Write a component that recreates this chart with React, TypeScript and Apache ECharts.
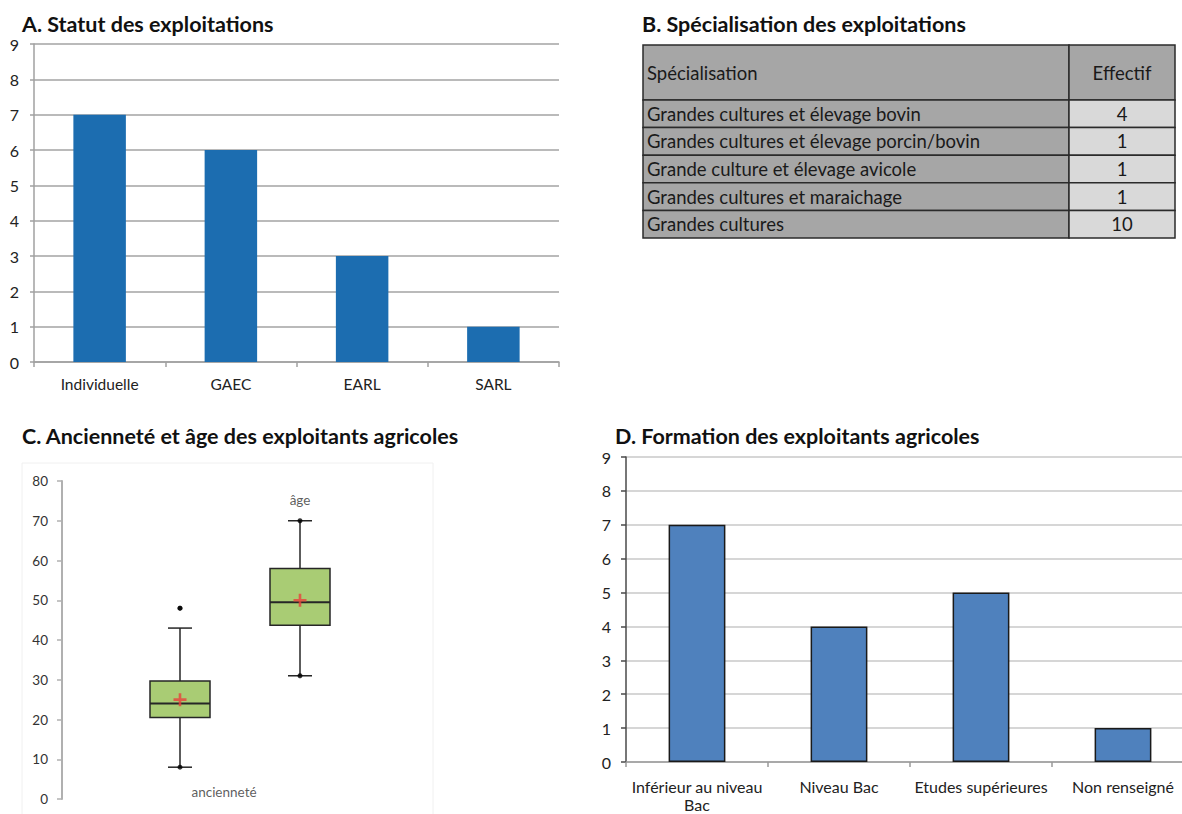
import React, { useEffect, useRef } from 'react';
import * as echarts from 'echarts';

// ---- Data ----
const statutCategories = ['Individuelle', 'GAEC', 'EARL', 'SARL'];
const statutValues = [7, 6, 3, 1];

const specHeader = ['Spécialisation', 'Effectif'];
const specNames = [
  'Grandes cultures et élevage bovin',
  'Grandes cultures et élevage porcin/bovin',
  'Grande culture et élevage avicole',
  'Grandes cultures et maraichage',
  'Grandes cultures',
];
const specCounts = [4, 1, 1, 1, 10];

const boxCategories = ['ancienneté', 'âge'];
const boxMin = [8, 31];
const boxQ1 = [20.5, 43.7];
const boxMedian = [24, 49.5];
const boxQ3 = [29.7, 58];
const boxMax = [43, 70];
const boxMean = [25, 50];
const boxOutliers = [[0, 48]];
const boxExtremeDots = [[0, 8], [0, 48], [1, 31], [1, 70]];
const boxLabelValues = [1.8, 75.2];

const formationCategories = ['Inférieur au niveau Bac', 'Niveau Bac', 'Etudes supérieures', 'Non renseigné'];
const formationValues = [7, 4, 5, 1];

const FONT = 'Lato, "Open Sans", sans-serif';
const CANVAS_W = 1200;

export default function App() {
  const ref = useRef<HTMLDivElement>(null);
  useEffect(() => {
    if (!ref.current) return;
    const chart = echarts.init(ref.current, undefined, { renderer: 'svg' });

    // table graphic
    const tx0 = 643, tx1 = 1069, tx2 = 1175;
    const hy0 = 45, hy1 = 100, rowH = 27.6;
    const cellStroke = { stroke: '#2b2b2b', lineWidth: 1.5 };
    const tableEls: any[] = [];
    tableEls.push({ type: 'rect', shape: { x: tx0, y: hy0, width: tx1 - tx0, height: hy1 - hy0 }, style: { fill: '#a6a6a6', ...cellStroke } });
    tableEls.push({ type: 'rect', shape: { x: tx1, y: hy0, width: tx2 - tx1, height: hy1 - hy0 }, style: { fill: '#a6a6a6', ...cellStroke } });
    const tfont = '18.5px ' + FONT;
    const txt = (text: string, x: number, y: number, align: string) => ({
      type: 'text', x, y,
      style: { text, font: tfont, fill: '#1a1a1a', align, verticalAlign: 'middle', textAlign: align, textVerticalAlign: 'middle' },
    });
    tableEls.push(txt(specHeader[0], tx0 + 4, (hy0 + hy1) / 2, 'left'));
    tableEls.push(txt(specHeader[1], (tx1 + tx2) / 2, (hy0 + hy1) / 2, 'center'));
    specNames.forEach((n, i) => {
      const y = hy1 + i * rowH;
      tableEls.push({ type: 'rect', shape: { x: tx0, y, width: tx1 - tx0, height: rowH }, style: { fill: '#a6a6a6', ...cellStroke } });
      tableEls.push({ type: 'rect', shape: { x: tx1, y, width: tx2 - tx1, height: rowH }, style: { fill: '#d9d9d9', ...cellStroke } });
      tableEls.push(txt(n, tx0 + 4, y + rowH / 2, 'left'));
      tableEls.push(txt(String(specCounts[i]), (tx1 + tx2) / 2, y + rowH / 2, 'center'));
    });

    const titleStyle = { fontFamily: FONT, fontWeight: 'bold' as const, fontSize: 21.5, color: '#111' };
    const countAxisLabel = { fontFamily: FONT, fontSize: 16, color: '#222' };

    const option: any = {
      animation: false,
      backgroundColor: '#ffffff',
      title: [
        { text: 'A. Statut des exploitations', left: 22, top: 13, padding: 0, textStyle: titleStyle },
        { text: 'B. Spécialisation des exploitations', left: 642, top: 13, padding: 0, textStyle: titleStyle },
        { text: 'C. Ancienneté et âge des exploitants agricoles', left: 22, top: 425, padding: 0, textStyle: titleStyle },
        { text: 'D. Formation des exploitants agricoles', left: 615, top: 425, padding: 0, textStyle: titleStyle },
      ],
      graphic: [
        { type: 'rect', shape: { x: 22, y: 463, width: 411, height: 360 }, style: { fill: 'none', stroke: '#f0f0f0', lineWidth: 1 }, z: -1 },
        ...tableEls,
      ],
      grid: [
        { left: 34, width: 525, top: 44, bottom: 814 - 362, outerBoundsMode: 'none' },
        { left: 120, width: 240, top: 481, bottom: 814 - 799, outerBoundsMode: 'none' },
        { left: 626, right: CANVAS_W - 1194, top: 457, bottom: 814 - 762, outerBoundsMode: 'none' },
      ],
      xAxis: [
        {
          gridIndex: 0, type: 'category', data: statutCategories,
          axisLine: { lineStyle: { color: '#a0a0a0', width: 1.5 } },
          axisTick: { show: true, length: 5, lineStyle: { color: '#a0a0a0', width: 1.5 } },
          axisLabel: { fontFamily: FONT, fontSize: 15.5, color: '#222', margin: 14 },
        },
        { gridIndex: 1, type: 'category', data: boxCategories, show: false },
        {
          gridIndex: 2, type: 'category', data: formationCategories,
          axisLine: { lineStyle: { color: '#9a9a9a', width: 1.5 } },
          axisTick: { show: true, length: 5, lineStyle: { color: '#9a9a9a', width: 1.5 } },
          axisLabel: {
            fontFamily: FONT, fontSize: 16, color: '#222', margin: 15, interval: 0, lineHeight: 18,
            formatter: (v: string) => {
              if (v.length > 20) {
                const k = v.lastIndexOf(' ');
                return v.slice(0, k) + '\n' + v.slice(k + 1);
              }
              return v;
            },
          },
        },
      ],
      yAxis: [
        {
          gridIndex: 0, type: 'value', min: 0, max: 9, interval: 1,
          axisLine: { show: true, lineStyle: { color: '#a0a0a0', width: 1.5 } },
          axisTick: { show: true, length: 4, lineStyle: { color: '#a0a0a0', width: 1.5 } },
          axisLabel: { ...countAxisLabel, margin: 15 },
          splitLine: { show: true, lineStyle: { color: '#a3a3a3', width: 1.5 } },
        },
        {
          gridIndex: 1, type: 'value', min: 0, max: 80, interval: 10, offset: 58,
          axisLine: { show: true, lineStyle: { color: '#b0b0b0', width: 2 } },
          axisTick: { show: true, length: 5, lineStyle: { color: '#b0b0b0', width: 1.5 } },
          axisLabel: { fontFamily: FONT, fontSize: 13.5, color: '#333', margin: 14 },
          splitLine: { show: false },
        },
        {
          gridIndex: 2, type: 'value', min: 0, max: 9, interval: 1,
          axisLine: { show: true, lineStyle: { color: '#4a4a4a', width: 1.5 } },
          axisTick: { show: true, length: 5, lineStyle: { color: '#4a4a4a', width: 1.5 } },
          axisLabel: { ...countAxisLabel, margin: 15 },
          splitLine: { show: true, lineStyle: { color: '#d6d6d6', width: 2 } },
        },
      ],
      series: [
        {
          type: 'bar', xAxisIndex: 0, yAxisIndex: 0, data: statutValues, barWidth: '40%',
          itemStyle: { color: '#1c6db0' }, z: 3,
        },
        {
          type: 'custom', xAxisIndex: 1, yAxisIndex: 1,
          data: boxCategories.map((_, i) => [i, boxMin[i], boxQ1[i], boxMedian[i], boxQ3[i], boxMax[i]]),
          encode: { x: 0, y: [1, 2, 3, 4, 5] },
          renderItem: (params: any, api: any) => {
            const i = api.value(0);
            const x = api.coord([i, api.value(1)])[0];
            const yMin = api.coord([i, api.value(1)])[1];
            const yQ1 = api.coord([i, api.value(2)])[1];
            const yMed = api.coord([i, api.value(3)])[1];
            const yQ3 = api.coord([i, api.value(4)])[1];
            const yMax = api.coord([i, api.value(5)])[1];
            const band = api.size([1, 0])[0];
            const half = band * 0.25;
            const cap = 12;
            const ls = { stroke: '#262626', lineWidth: 1.5 };
            return {
              type: 'group',
              children: [
                { type: 'line', shape: { x1: x, y1: yMin, x2: x, y2: yQ1 }, style: ls },
                { type: 'line', shape: { x1: x, y1: yQ3, x2: x, y2: yMax }, style: ls },
                { type: 'line', shape: { x1: x - cap, y1: yMin, x2: x + cap, y2: yMin }, style: ls },
                { type: 'line', shape: { x1: x - cap, y1: yMax, x2: x + cap, y2: yMax }, style: ls },
                { type: 'rect', shape: { x: x - half, y: yQ3, width: half * 2, height: yQ1 - yQ3 }, style: { fill: '#a9cc74', stroke: '#262626', lineWidth: 1.5 } },
                { type: 'line', shape: { x1: x - half, y1: yMed, x2: x + half, y2: yMed }, style: { stroke: '#262626', lineWidth: 2 } },
              ],
            };
          },
          z: 2,
        },
        {
          type: 'scatter', xAxisIndex: 1, yAxisIndex: 1, data: boxExtremeDots,
          symbol: 'circle', symbolSize: 5, itemStyle: { color: '#000' }, z: 4,
        },
        {
          type: 'scatter', xAxisIndex: 1, yAxisIndex: 1, data: boxOutliers,
          symbol: 'circle', symbolSize: 5, itemStyle: { color: '#000' }, z: 4,
        },
        {
          type: 'scatter', xAxisIndex: 1, yAxisIndex: 1,
          data: boxMean.map((m, i) => [i, m]),
          symbol: 'path://M4,0H6V4H10V6H6V10H4V6H0V4H4Z', symbolSize: 13,
          itemStyle: { color: '#e8413c' }, z: 5,
        },
        {
          type: 'scatter', xAxisIndex: 1, yAxisIndex: 1,
          data: boxCategories.map((c, i) => ({ value: [i, boxLabelValues[i]], name: c })),
          symbolSize: 1, itemStyle: { color: 'rgba(0,0,0,0)' },
          label: {
            show: true, position: 'inside', formatter: '{b}', fontFamily: FONT, fontSize: 13.5, color: '#333',
          },
          labelLayout: (p: any) => (p.dataIndex === 0 ? { dx: 44 } : {}),
          z: 5,
        },
        {
          type: 'bar', xAxisIndex: 2, yAxisIndex: 2, data: formationValues, barWidth: '40%',
          itemStyle: { color: '#4f81bd', borderColor: '#1a1a1a', borderWidth: 1.5 }, z: 3,
        },
      ],
    };
    chart.setOption(option);
    return () => chart.dispose();
  }, []);
  return (
    <div style={{ position: 'absolute', left: 0, top: 0, width: 1182, height: 814, overflow: 'hidden' }}>
      <div ref={ref} style={{ width: CANVAS_W, height: 814 }} />
    </div>
  );
}
